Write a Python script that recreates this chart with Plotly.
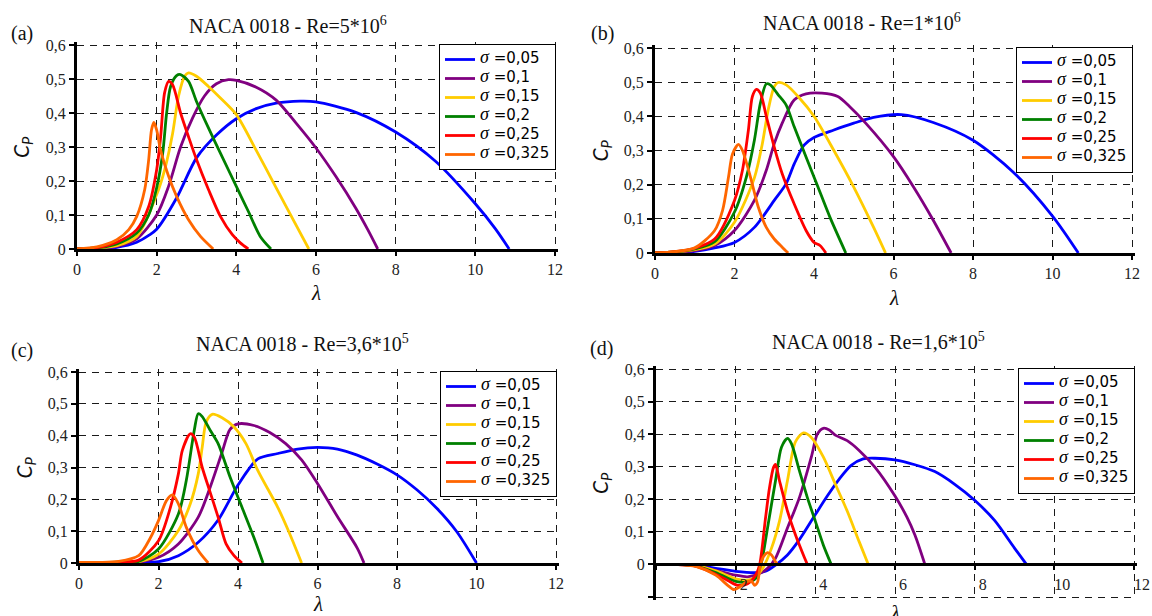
import plotly.graph_objects as go

W, H = 1152, 616

SIGMA_LABELS = ["0,05", "0,1", "0,15", "0,2", "0,25", "0,325"]
COLORS = ["#0000FF", "#800080", "#FFCC00", "#008000", "#FF0000", "#FF6600"]

X_TICKS = [0, 2, 4, 6, 8, 10, 12]
Y_TICKS = [0, 0.1, 0.2, 0.3, 0.4, 0.5, 0.6]
Y_TICK_TEXT = ["0", "0,1", "0,2", "0,3", "0,4", "0,5", "0,6"]

TITLES = ["NACA 0018 - Re=5*10<sup>6</sup>", "NACA 0018 - Re=1*10<sup>6</sup>",
          "NACA 0018 - Re=3,6*10<sup>5</sup>", "NACA 0018 - Re=1,6*10<sup>5</sup>"]
PANEL_LABELS = ["(a)", "(b)", "(c)", "(d)"]

# ---------------- Panel (a) Re = 5e6 ----------------
A_005_X = [0, 0.5, 1.0, 1.5, 1.8, 2.0, 2.5, 3.0, 3.5, 4.0, 4.5, 5.0, 5.6, 6.0, 7.0, 8.0, 9.0, 10.0, 10.5, 10.85]
A_005_Y = [0, 0.001, 0.005, 0.02, 0.04, 0.058, 0.15, 0.268, 0.335, 0.383, 0.413, 0.429, 0.435, 0.433, 0.402, 0.344, 0.258, 0.133, 0.06, 0]
A_010_X = [0, 0.5, 1.0, 1.5, 2.0, 2.3, 2.6, 2.9, 3.2, 3.5, 3.8, 4.0, 4.5, 5.0, 5.5, 6.0, 6.5, 7.0, 7.3, 7.55]
A_010_Y = [0, 0.002, 0.008, 0.03, 0.10, 0.185, 0.30, 0.385, 0.45, 0.486, 0.498, 0.496, 0.476, 0.438, 0.37, 0.297, 0.213, 0.12, 0.057, 0]
A_015_X = [0, 0.5, 1.0, 1.5, 2.0, 2.2, 2.4, 2.55, 2.7, 2.8, 3.0, 3.3, 3.6, 4.0, 4.5, 5.0, 5.5, 5.82]
A_015_Y = [0, 0.003, 0.01, 0.037, 0.16, 0.233, 0.34, 0.45, 0.508, 0.518, 0.508, 0.478, 0.444, 0.395, 0.29, 0.18, 0.07, 0]
A_020_X = [0, 0.5, 1.0, 1.5, 1.8, 2.0, 2.15, 2.25, 2.35, 2.5, 2.6, 2.8, 3.0, 3.3, 3.6, 4.0, 4.3, 4.6, 4.87]
A_020_Y = [0, 0.003, 0.015, 0.047, 0.10, 0.18, 0.28, 0.40, 0.478, 0.51, 0.513, 0.493, 0.434, 0.356, 0.282, 0.184, 0.111, 0.037, 0]
A_025_X = [0, 0.5, 1.0, 1.5, 1.8, 2.0, 2.1, 2.2, 2.3, 2.4, 2.6, 2.8, 3.0, 3.3, 3.6, 3.9, 4.1, 4.3]
A_025_Y = [0, 0.004, 0.02, 0.057, 0.125, 0.233, 0.33, 0.46, 0.493, 0.483, 0.40, 0.33, 0.263, 0.175, 0.096, 0.042, 0.018, 0]
A_0325_X = [0, 0.5, 1.0, 1.3, 1.5, 1.7, 1.8, 1.87, 1.93, 2.0, 2.1, 2.3, 2.5, 2.8, 3.1, 3.42]
A_0325_Y = [0, 0.006, 0.027, 0.057, 0.096, 0.175, 0.263, 0.35, 0.372, 0.35, 0.29, 0.214, 0.155, 0.086, 0.037, 0]

# ---------------- Panel (b) Re = 1e6 ----------------
B_005_X = [0, 0.5, 1.0, 1.5, 2.0, 2.5, 3.0, 3.3, 3.5, 3.75, 4.0, 4.5, 5.0, 5.5, 6.2, 7.0, 8.0, 9.0, 10.0, 10.65]
B_005_Y = [0, 0.001, 0.005, 0.015, 0.031, 0.075, 0.154, 0.203, 0.26, 0.316, 0.338, 0.36, 0.38, 0.397, 0.405, 0.382, 0.33, 0.238, 0.108, 0]
B_010_X = [0, 0.5, 1.0, 1.5, 2.0, 2.5, 2.8, 3.0, 3.2, 3.5, 3.8, 4.2, 4.6, 4.9, 5.3, 6.0, 6.5, 7.0, 7.45]
B_010_Y = [0, 0.002, 0.007, 0.022, 0.066, 0.154, 0.242, 0.32, 0.38, 0.448, 0.466, 0.468, 0.458, 0.428, 0.38, 0.282, 0.194, 0.096, 0]
B_015_X = [0, 0.5, 1.0, 1.5, 2.0, 2.5, 2.7, 2.85, 3.0, 3.1, 3.3, 3.6, 4.0, 4.5, 5.0, 5.5, 5.8]
B_015_Y = [0, 0.003, 0.01, 0.026, 0.09, 0.22, 0.32, 0.42, 0.487, 0.499, 0.492, 0.458, 0.40, 0.30, 0.193, 0.075, 0]
B_020_X = [0, 0.5, 1.0, 1.5, 2.0, 2.3, 2.5, 2.65, 2.8, 2.9, 3.1, 3.3, 3.5, 3.8, 4.1, 4.4, 4.8]
B_020_Y = [0, 0.003, 0.012, 0.033, 0.12, 0.223, 0.33, 0.438, 0.495, 0.492, 0.463, 0.433, 0.37, 0.281, 0.193, 0.105, 0]
B_025_X = [0, 0.5, 1.0, 1.5, 2.0, 2.2, 2.35, 2.45, 2.55, 2.65, 2.8, 3.0, 3.2, 3.5, 3.8, 4.0, 4.15, 4.3]
B_025_Y = [0, 0.004, 0.014, 0.041, 0.154, 0.242, 0.36, 0.458, 0.479, 0.468, 0.40, 0.31, 0.232, 0.144, 0.066, 0.031, 0.022, 0]
B_0325_X = [0, 0.5, 1.0, 1.5, 1.7, 1.85, 1.95, 2.1, 2.2, 2.4, 2.6, 2.8, 3.0, 3.2, 3.35]
B_0325_Y = [0, 0.004, 0.015, 0.066, 0.125, 0.223, 0.29, 0.318, 0.30, 0.223, 0.134, 0.075, 0.041, 0.017, 0]

# ---------------- Panel (c) Re = 3.6e5 ----------------
C_005_X = [0, 1.0, 1.5, 2.0, 2.5, 3.0, 3.5, 4.0, 4.5, 5.0, 5.5, 6.0, 6.5, 7.0, 7.5, 8.0, 8.5, 9.0, 9.5, 10.0]
C_005_Y = [0.002, 0.002, 0.002, 0.004, 0.023, 0.065, 0.135, 0.245, 0.327, 0.344, 0.358, 0.363, 0.358, 0.339, 0.311, 0.277, 0.23, 0.172, 0.099, 0]
C_010_X = [0, 1.0, 1.5, 2.0, 2.5, 3.0, 3.3, 3.6, 3.8, 4.0, 4.4, 4.8, 5.2, 5.6, 6.0, 6.5, 7.0, 7.17]
C_010_Y = [0.002, 0.002, 0.003, 0.018, 0.06, 0.144, 0.238, 0.348, 0.42, 0.437, 0.432, 0.41, 0.375, 0.324, 0.25, 0.146, 0.047, 0]
C_015_X = [0, 1.0, 1.5, 2.0, 2.5, 2.8, 3.0, 3.1, 3.2, 3.35, 3.6, 3.9, 4.2, 4.5, 5.0, 5.3, 5.6]
C_015_Y = [0.002, 0.002, 0.004, 0.028, 0.102, 0.186, 0.28, 0.364, 0.443, 0.467, 0.456, 0.427, 0.375, 0.29, 0.175, 0.092, 0]
C_020_X = [0, 1.0, 1.5, 2.0, 2.5, 2.7, 2.9, 3.0, 3.1, 3.3, 3.5, 3.8, 4.1, 4.4, 4.63]
C_020_Y = [0.002, 0.003, 0.005, 0.044, 0.154, 0.26, 0.417, 0.469, 0.46, 0.417, 0.375, 0.27, 0.175, 0.08, 0]
C_025_X = [0, 1.0, 1.5, 2.0, 2.3, 2.5, 2.6, 2.8, 2.9, 3.1, 3.3, 3.5, 3.7, 3.9, 4.1]
C_025_Y = [0.002, 0.003, 0.009, 0.07, 0.175, 0.28, 0.354, 0.406, 0.396, 0.30, 0.222, 0.144, 0.06, 0.023, 0]
C_0325_X = [0, 0.5, 1.0, 1.5, 1.8, 2.0, 2.2, 2.35, 2.5, 2.7, 3.0, 3.25]
C_0325_Y = [0.002, 0.002, 0.005, 0.023, 0.08, 0.133, 0.196, 0.214, 0.186, 0.112, 0.039, 0]

# ---------------- Panel (d) Re = 1.6e5 ----------------
D_005_X = [0, 0.5, 1.0, 1.5, 2.0, 2.5, 2.75, 3.0, 3.3, 3.6, 4.0, 4.3, 4.6, 4.9, 5.2, 5.5, 6.0, 6.5, 7.0, 7.5, 8.0, 8.5, 9.0, 9.3]
D_005_Y = [0, 0, -0.002, -0.012, -0.021, -0.025, -0.021, -0.002, 0.029, 0.076, 0.153, 0.21, 0.262, 0.304, 0.324, 0.326, 0.321, 0.306, 0.285, 0.246, 0.197, 0.135, 0.05, 0]
D_010_X = [0, 0.5, 1.0, 1.5, 2.0, 2.3, 2.6, 2.8, 3.0, 3.3, 3.6, 3.9, 4.05, 4.2, 4.35, 4.5, 4.8, 5.1, 5.5, 6.0, 6.3, 6.5, 6.75]
D_010_Y = [0, 0, -0.003, -0.018, -0.033, -0.038, -0.028, -0.012, 0.019, 0.112, 0.205, 0.33, 0.40, 0.418, 0.413, 0.397, 0.38, 0.35, 0.298, 0.21, 0.145, 0.09, 0]
D_015_X = [0, 0.5, 1.0, 1.5, 2.0, 2.3, 2.5, 2.7, 2.9, 3.1, 3.3, 3.5, 3.7, 3.9, 4.2, 4.5, 4.8, 5.1, 5.33]
D_015_Y = [0, 0, -0.004, -0.02, -0.044, -0.048, -0.038, -0.007, 0.05, 0.133, 0.257, 0.376, 0.404, 0.39, 0.33, 0.247, 0.164, 0.07, 0]
D_020_X = [0, 0.5, 1.0, 1.5, 2.0, 2.3, 2.5, 2.65, 2.8, 3.0, 3.15, 3.3, 3.4, 3.6, 3.8, 4.0, 4.2, 4.4]
D_020_Y = [0, 0, -0.005, -0.025, -0.052, -0.054, -0.043, 0.008, 0.112, 0.257, 0.36, 0.387, 0.371, 0.288, 0.205, 0.133, 0.06, 0]
D_025_X = [0, 0.5, 1.0, 1.5, 1.8, 2.05, 2.3, 2.5, 2.6, 2.75, 2.85, 2.95, 3.0, 3.1, 3.3, 3.5, 3.7, 3.8]
D_025_Y = [0, 0, -0.005, -0.03, -0.049, -0.064, -0.059, -0.033, -0.002, 0.143, 0.236, 0.298, 0.307, 0.257, 0.164, 0.091, 0.029, 0]
D_0325_X = [0, 0.5, 1.0, 1.5, 1.8, 1.95, 2.1, 2.3, 2.4, 2.48, 2.55, 2.62, 2.7, 2.8, 2.9, 3.0, 3.05]
D_0325_Y = [0, 0, -0.006, -0.033, -0.064, -0.077, -0.069, -0.052, -0.052, -0.064, -0.054, -0.002, 0.024, 0.036, 0.029, 0.008, 0]

PANEL_SERIES = [
    [(A_005_X, A_005_Y), (A_010_X, A_010_Y), (A_015_X, A_015_Y), (A_020_X, A_020_Y), (A_025_X, A_025_Y), (A_0325_X, A_0325_Y)],
    [(B_005_X, B_005_Y), (B_010_X, B_010_Y), (B_015_X, B_015_Y), (B_020_X, B_020_Y), (B_025_X, B_025_Y), (B_0325_X, B_0325_Y)],
    [(C_005_X, C_005_Y), (C_010_X, C_010_Y), (C_015_X, C_015_Y), (C_020_X, C_020_Y), (C_025_X, C_025_Y), (C_0325_X, C_0325_Y)],
    [(D_005_X, D_005_Y), (D_010_X, D_010_Y), (D_015_X, D_015_Y), (D_020_X, D_020_Y), (D_025_X, D_025_Y), (D_0325_X, D_0325_Y)],
]
Y_MIN = [0, 0, 0, -0.1]

# ---------------- Layout geometry (pixels) ----------------
# plot boxes: x0 (lambda=0), x1 (lambda=12), ytop (Cp=0.6), ybot (Cp=ymin)
BOXES = [(77, 555, 45, 249), (655, 1132, 48, 253), (79, 556, 372, 563), (656, 1134, 369, 597)]
TITLE_POS = [(288, 25), (862, 22), (302, 343), (878, 341)]
LABEL_POS = [(22, 33), (602, 33), (22, 350), (601, 348)]
XTITLE_OFF = [44, 45, 41, 49]
EXT = 3  # px extension so that edge grid lines are drawn

SERIF = "Liberation Serif"
LEG_SANS = "DejaVu Sans"


def px(xp):
    return xp / W


def py(yp):
    return 1 - yp / H


def legend_name(label):
    return (f"<span style=\"font-family:{SERIF};font-size:18px\"><i>σ</i></span>"
            f"<span style=\"font-family:{LEG_SANS};font-size:15px\"> =" + label + "</span>")


fig = go.Figure()
annotations = []
layout = dict(
    width=W, height=H, margin=dict(l=0, r=0, t=0, b=0),
    paper_bgcolor="white", plot_bgcolor="white", showlegend=True,
    font=dict(family=SERIF, size=16, color="black"),
)

for i in range(4):
    n = i + 1
    xa = "x" if n == 1 else f"x{n}"
    ya = "y" if n == 1 else f"y{n}"
    xkey = "xaxis" if n == 1 else f"xaxis{n}"
    ykey = "yaxis" if n == 1 else f"yaxis{n}"
    lkey = "legend" if n == 1 else f"legend{n}"
    x0, x1, yt, yb = BOXES[i]
    ymin = Y_MIN[i]
    xr_ext = EXT * 12 / (x1 - x0)
    yr_ext = EXT * (0.6 - ymin) / (yb - yt)
    xrange = [0, 12 + xr_ext]
    yrange = [ymin - (yr_ext if ymin < 0 else 0), 0.6 + yr_ext]
    xdom = [px(x0), px(x1 + EXT)]
    ydom = [py(yb + (EXT if ymin < 0 else 0)), py(yt - EXT)]

    for k, (xs, ys) in enumerate(PANEL_SERIES[i]):
        fig.add_trace(go.Scatter(
            x=xs, y=ys, mode="lines", xaxis=xa, yaxis=ya,
            line=dict(color=COLORS[k], width=2.8, shape="spline", smoothing=0.8),
            name=legend_name(SIGMA_LABELS[k]),
            legend=lkey, hoverinfo="skip",
        ))

    grid = dict(showgrid=True, gridcolor="#1a1a1a", gridwidth=1, griddash="7px,6px")
    xt_text = [str(v) for v in X_TICKS]
    xaxis = dict(domain=xdom, range=xrange, tickvals=X_TICKS, ticktext=xt_text,
                 showline=True, linewidth=3, linecolor="black",
                 ticks="outside", ticklen=4, tickwidth=2, tickcolor="black",
                 tickfont=dict(family=SERIF, size=16, color="#222"),
                 zeroline=False, automargin=False, fixedrange=True, **grid)
    if ymin < 0:
        xt_text = [""] + [str(v) for v in X_TICKS[1:]]
        pos = ydom[0] + (0 - yrange[0]) / (yrange[1] - yrange[0]) * (ydom[1] - ydom[0])
        xaxis.update(anchor="free", position=pos, ticktext=xt_text, ticklabelshift=8)
    else:
        xaxis.update(anchor=ya)
    yvals = ([ymin] if ymin < 0 else []) + Y_TICKS
    ytext = ([""] if ymin < 0 else []) + Y_TICK_TEXT
    yaxis = dict(domain=ydom, range=yrange, tickvals=yvals, ticktext=ytext, anchor=xa,
                 showline=True, linewidth=3, linecolor="black",
                 ticks="outside", ticklen=5, tickwidth=2, tickcolor="black",
                 tickfont=dict(family=SERIF, size=16, color="#222"),
                 zeroline=False, automargin=False, fixedrange=True, **grid)
    layout[xkey] = xaxis
    layout[ykey] = yaxis
    layout[lkey] = dict(
        x=px(x1 + 1), y=py(yt - 1), xanchor="right", yanchor="top",
        bgcolor="white", bordercolor="black", borderwidth=1,
        font=dict(family=LEG_SANS, size=10, color="black"),
        itemwidth=30, tracegroupgap=0, traceorder="normal",
    )

    # titles / labels
    tx, ty = TITLE_POS[i]
    annotations.append(dict(text=TITLES[i], x=px(tx), y=py(ty), xref="paper", yref="paper",
                            showarrow=False, xanchor="center", yanchor="middle",
                            font=dict(family=SERIF, size=20, color="#111")))
    lx, ly = LABEL_POS[i]
    annotations.append(dict(text=PANEL_LABELS[i], x=px(lx), y=py(ly), xref="paper", yref="paper",
                            showarrow=False, xanchor="center", yanchor="middle",
                            font=dict(family=SERIF, size=20, color="#111")))
    # axis titles
    zero_px = yb if ymin >= 0 else yt + (yb - yt) * 0.6 / (0.6 - ymin)
    annotations.append(dict(text="<i>λ</i>", x=px((x0 + x1) / 2), y=py(zero_px + XTITLE_OFF[i]),
                            xref="paper", yref="paper", showarrow=False,
                            xanchor="center", yanchor="middle",
                            font=dict(family=SERIF, size=21, color="#111")))
    annotations.append(dict(text="<i>C<sub>P</sub></i>", x=px(x0 - 55), y=py((yt + yb) / 2),
                            xref="paper", yref="paper", showarrow=False, textangle=-90,
                            xanchor="center", yanchor="middle",
                            font=dict(family="Lato", size=21, color="#111")))

layout["annotations"] = annotations
fig.update_layout(**layout)
fig.write_html("out.html")
